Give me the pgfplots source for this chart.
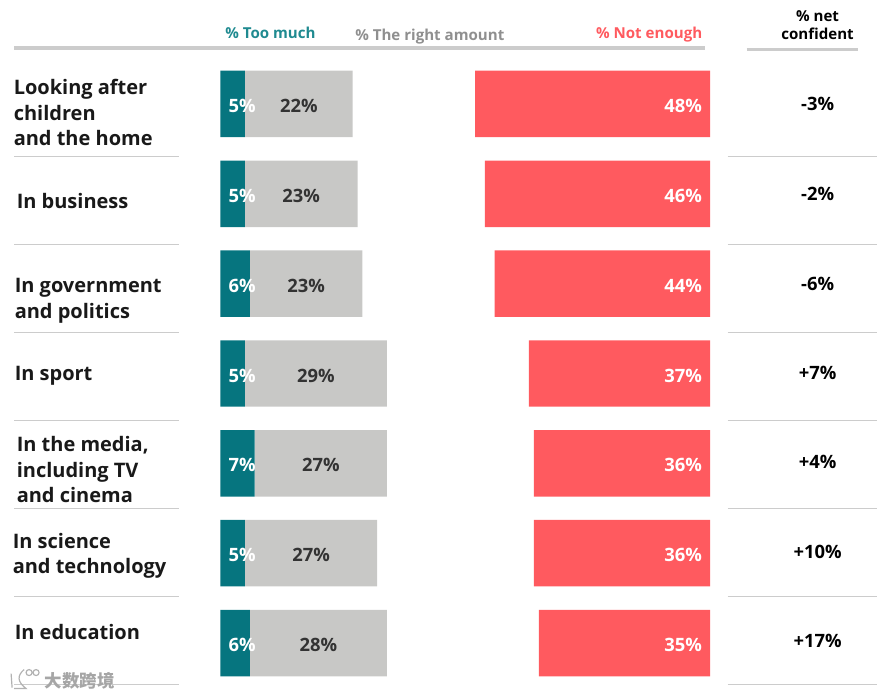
\documentclass[border=0pt]{standalone}
\usepackage{fontspec}
\setmainfont{Open Sans}
\newfontfamily\cjk{Noto Sans CJK SC}
\usepackage{pgfplots}
\usepackage{pgfplotstable}
\pgfplotsset{compat=1.18}

\definecolor{tealbar}{HTML}{06757F}
\definecolor{teallab}{HTML}{1F8A90}
\definecolor{greybar}{HTML}{C8C8C6}
\definecolor{greylab}{HTML}{8F8F8F}
\definecolor{redbar}{HTML}{FF5A5F}
\definecolor{rulegrey}{HTML}{CCCCCC}

% gap = invisible spacer so the red bars end at 100
\pgfplotstableread{
row much right gap little
0   5    22    25  48
1   5    23    26  46
2   6    23    27  44
3   5    29    29  37
4   7    27    30  36
5   5    27    32  36
6   6    28    31  35
}\shares

\newcommand{\lab}{\bfseries\fontsize{18.4}{22}\selectfont}
\newcommand{\head}{\bfseries\fontsize{15.1}{19}\selectfont}

\begin{document}
\begin{tikzpicture}
  \begin{axis}[
    scale only axis,
    width=877pt, height=698pt,
    xbar stacked, bar width=66.5pt,
    xmin=-45, xmax=133.98,
    ymin=-1.157, ymax=6.607,
    y dir=reverse,
    clip=false,
    axis line style={draw=none},
    major tick length=0pt,
    xtick=\empty,
    ytick={0.095,1.078,2.19,3.03,4.072,5.03,5.878},
    yticklabels={
      {Looking after\\children\\and the home},
      {\hspace*{3pt}In business},
      {\hspace*{1pt}In government\\\hspace*{1pt}and politics},
      {\hspace*{1pt}In sport},
      {\hspace*{3pt}In the media,\\\hspace*{3pt}including TV\\\hspace*{3pt}and cinema},
      {\hspace*{-1pt}In science\\\hspace*{-1pt}and technology},
      {\hspace*{1pt}In education}},
    yticklabel style={anchor=west, xshift=13.5pt, align=left, inner sep=0pt,
      text=black!90, font=\bfseries\fontsize{20}{25.5}\selectfont},
    /pgf/number format/assume math mode=true,
    /pgf/number format/precision=0,
    every node near coord/.append style={inner sep=0pt, font=\lab},
    visualization depends on={rawx \as \val},
  ]
    % stacked labels sit at the middle of their segment
    \addplot[draw=none, fill=tealbar,
      nodes near coords={\pgfmathprintnumber{\val}\%},
      every node near coord/.append style={anchor=east, text=white,
        xshift={35.5pt-2.45pt*\val}, yshift=-2pt}]
      table[x=much, y=row] {\shares};
    \addplot[draw=none, fill=greybar,
      nodes near coords={\pgfmathprintnumber{\val}\%},
      every node near coord/.append style={anchor=center, text=black!80, yshift=-2pt}]
      table[x=right, y=row] {\shares};
    \addplot[draw=none, fill=none]
      table[x=gap, y=row] {\shares};
    \addplot[draw=none, fill=redbar,
      nodes near coords={\pgfmathprintnumber{\val}\%},
      every node near coord/.append style={anchor=east, text=white,
        xshift={2.45pt*\val-8pt}, yshift=-2pt}]
      table[x=little, y=row] {\shares};
  \end{axis}

  % from here on coordinates are reference pixels
  \begin{scope}[x=1pt, y=-1pt, yshift=698pt]
    \draw[rulegrey, line width=3.5pt] (14,48) -- (705,48);
    \draw[rulegrey, line width=3.5pt] (747,49.5) -- (858,49.5);
    \foreach \yy in {156.5,245,333,421,509,597,685} {
      \draw[rulegrey, line width=0.9pt] (14,\yy) -- (179,\yy);
      \draw[rulegrey, line width=0.9pt] (728,\yy) -- (877,\yy);
    }
    \node[text=teallab, font=\head, anchor=base] at (270.5,39) {\% Too much};
    \node[text=greylab, font=\head, anchor=base] at (430,41) {\% The right amount};
    \node[text=redbar, font=\head, anchor=base] at (649.5,39) {\% Not enough};
    \node[text=black, font=\head, anchor=base] at (818,21.5) {\% net};
    \node[text=black, font=\head, anchor=base] at (818,40) {confident};

    \foreach \yy/\net in {104.5/-3,194/-2,283.8/-6,373/+7,462/+4,552/+10,641/+17}
      \node[text=black, font=\lab] at (818,\yy) {\net\%};

    % watermark
    \node[text=black!35, font=\cjk\bfseries\fontsize{17.5}{17.5}\selectfont] at (79.5,681) {大数跨境};
    \draw[black!30, line width=1.2pt] (11,674) -- (12,688) (24,670) .. controls (17,676) and (17,682) .. (26,689) -- (14,689);
    \draw[black!30, line width=1.2pt] (29,673) circle (3pt) (36,673) circle (3pt);
  \end{scope}
\end{tikzpicture}
\end{document}
